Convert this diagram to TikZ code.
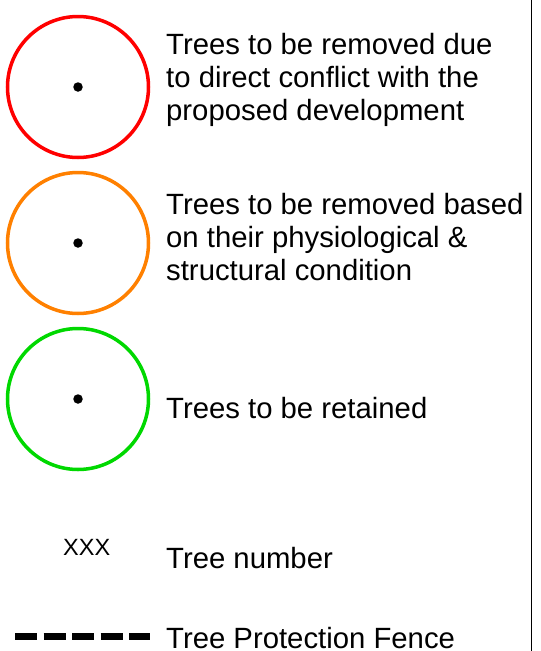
\documentclass[tikz,border=0pt]{standalone}
\usepackage{fontspec}
\setmainfont{Liberation Sans}
\usepackage{tikz}
\usetikzlibrary{positioning}
\definecolor{treered}{RGB}{255,0,0}
\definecolor{treeorange}{RGB}{255,128,0}
\definecolor{treegreen}{RGB}{0,216,0}
\tikzset{
  tree/.style={circle, draw, line width=3.5pt, minimum size=141pt, inner sep=0pt},
  stem/.style={circle, fill=black, minimum size=9.5pt, inner sep=0pt},
  label/.style={anchor=base west, align=left, inner sep=0pt, font=\fontsize{29.3}{33}\selectfont},
  tag/.style={anchor=base west, inner sep=0pt, font=\fontsize{23.5}{26}\selectfont},
  fence/.style={line width=7pt, dash pattern=on 22pt off 6.5pt}}

\begin{document}
\begin{tikzpicture}[x=1pt, y=-1pt]
  \useasboundingbox (0,0) rectangle (541,651);
  % frame line on the right
  \coordinate (top) at (531.5,0);
  \coordinate (bot) at (531.5,651);
  \draw[line width=1.8pt] (top) -- (bot);
  % row 1: removed for development (base = last line)
  \node[tree, draw=treered] (red) at (78,87) {};
  \node[stem] (redc) at (red.center) {};
  \node[label] (redt) at (166,120.5) {Trees to be removed due\\to direct conflict with the\\proposed development};
  % row 2: removed for condition
  \node[tree, draw=treeorange] (orange) at (78,243) {};
  \node[stem] (orangec) at (orange.center) {};
  \node[label] (oranget) at (166,280.5) {Trees to be removed based\\on their physiological \&\\structural condition};
  % row 3: retained
  \node[tree, draw=treegreen] (green) at (78,399) {};
  \node[stem] (greenc) at (green.center) {};
  \node[label] (greent) at (166,418) {Trees to be retained};
  % tree number
  \node[tag] (num) at (63,555) {XXX};
  \node[label] (numt) at (166,568) {Tree number};
  % fence
  \coordinate (fa) at (15,636);
  \coordinate (fb) at (150,636);
  \draw[fence] (fa) -- (fb);
  \node[label] (fencet) at (166,648) {Tree Protection Fence};
\end{tikzpicture}
\end{document}
